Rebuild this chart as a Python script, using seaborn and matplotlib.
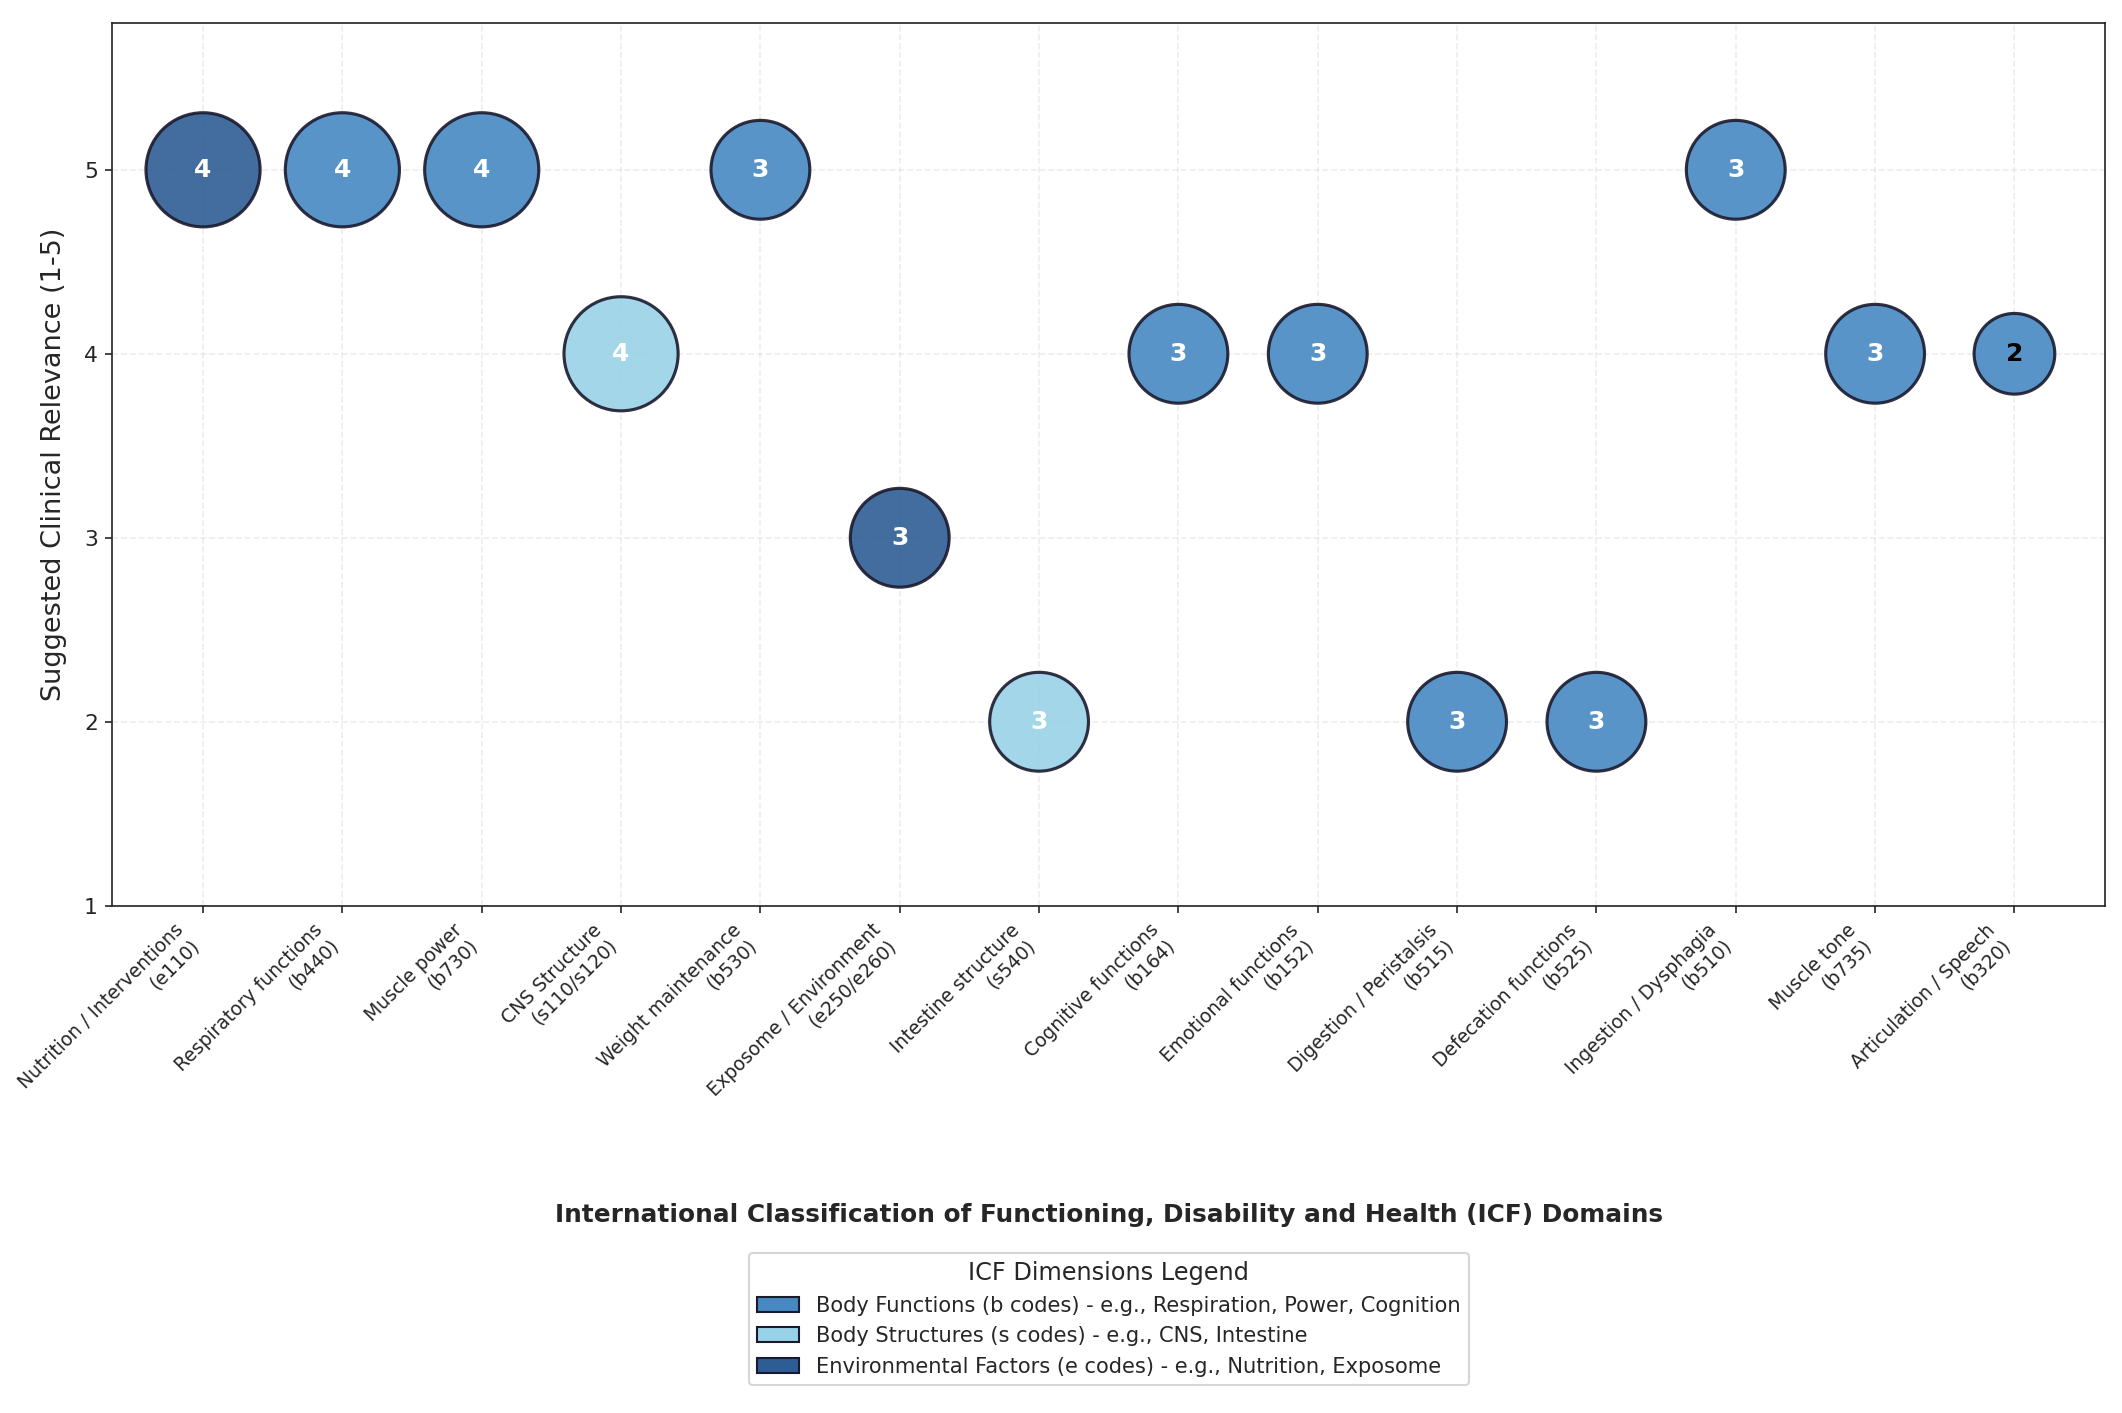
import pandas as pd
import matplotlib
matplotlib.use('Agg')
import matplotlib.pyplot as plt
from matplotlib.patches import Patch
import seaborn as sns

sns.set_style('ticks')

DOMAINS = [
    'Nutrition / Interventions\n(e110)',
    'Respiratory functions\n(b440)',
    'Muscle power\n(b730)',
    'CNS Structure\n(s110/s120)',
    'Weight maintenance\n(b530)',
    'Exposome / Environment\n(e250/e260)',
    'Intestine structure\n(s540)',
    'Cognitive functions\n(b164)',
    'Emotional functions\n(b152)',
    'Digestion / Peristalsis\n(b515)',
    'Defecation functions\n(b525)',
    'Ingestion / Dysphagia\n(b510)',
    'Muscle tone\n(b735)',
    'Articulation / Speech\n(b320)',
]
RELEVANCE = [5, 5, 5, 4, 5, 3, 2, 4, 4, 2, 2, 5, 4, 4]
COUNTS = [4, 4, 4, 4, 3, 3, 3, 3, 3, 3, 3, 3, 3, 2]
DIMENSION = ['e', 'b', 'b', 's', 'b', 'e', 's', 'b', 'b', 'b', 'b', 'b', 'b', 'b']

DIM_COLORS = {'b': '#4689c2', 's': '#98d2e6', 'e': '#2d5d94'}
DIM_LABELS = {
    'b': 'Body Functions (b codes) - e.g., Respiration, Power, Cognition',
    's': 'Body Structures (s codes) - e.g., CNS, Intestine',
    'e': 'Environmental Factors (e codes) - e.g., Nutrition, Exposome',
}

df = pd.DataFrame({
    'domain': DOMAINS,
    'relevance': RELEVANCE,
    'count': COUNTS,
    'dimension': DIMENSION,
})

fig, ax = plt.subplots(figsize=(2122 / 150, 1413 / 150), dpi=150)
fig.subplots_adjust(left=0.053, right=0.992, top=0.984, bottom=0.359)

sns.scatterplot(data=df, x='domain', y='relevance', hue='dimension', size='count',
                sizes={2: 1500, 3: 2250, 4: 3000}, palette=DIM_COLORS, alpha=0.9,
                edgecolor='#1a1a2e', linewidth=1.5, legend=False, ax=ax, zorder=3)

for i, row in df.iterrows():
    ax.text(i, row['relevance'], str(row['count']), ha='center', va='center',
            fontsize=12, fontweight='bold',
            color='white' if row['count'] > 2 else 'black', zorder=4)

ax.set_xlim(-0.65, len(DOMAINS) - 0.35)
ax.set_ylim(1, 5.8)
ax.set_yticks([1, 2, 3, 4, 5])
ax.tick_params(axis='y', labelsize=10.5)
ax.set_xticks(range(len(DOMAINS)))
ax.set_xticklabels(DOMAINS, rotation=45, ha='right', fontsize=9)
ax.grid(True, linestyle='--', alpha=0.35, zorder=0)
for sp in ax.spines.values():
    sp.set_visible(True)
    sp.set_color('#222222')

ax.set_ylabel('Suggested Clinical Relevance (1-5)', fontsize=13, labelpad=8)
ax.set_xlabel('International Classification of Functioning, Disability and Health (ICF) Domains',
              fontsize=11.9, fontweight='bold')
ax.xaxis.set_label_coords(0.5, -0.337)

handles = [Patch(facecolor=DIM_COLORS[k], edgecolor='#1a1a2e', label=DIM_LABELS[k])
           for k in ['b', 's', 'e']]
ax.legend(handles=handles, title='ICF Dimensions Legend', loc='upper center',
          bbox_to_anchor=(0.5, -0.381), fontsize=10.1, title_fontsize=11.5, frameon=True)

fig.savefig('out.png', dpi=150)
